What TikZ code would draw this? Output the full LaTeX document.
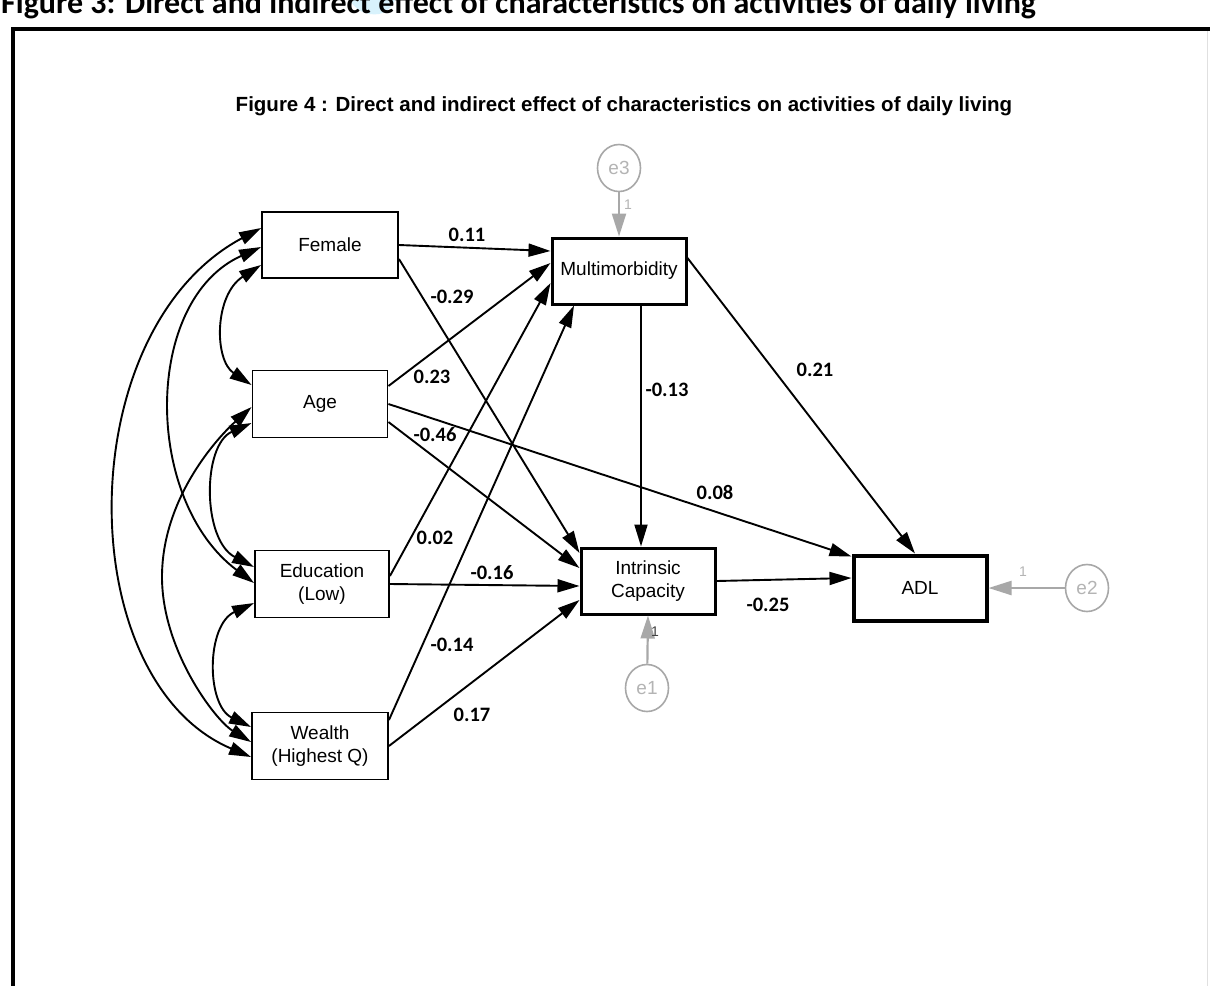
\documentclass[tikz,border=0pt]{standalone}
\usepackage{fontspec}
\setmainfont{Liberation Sans}
\newfontfamily\calib{Carlito}
\usetikzlibrary{arrows.meta,calc,shapes.geometric}
\definecolor{egray}{HTML}{A8A8A8}
\definecolor{etext}{HTML}{B4B4B4}
\begin{document}
\begin{tikzpicture}[x=1pt,y=-1pt,
  vbox/.style={draw, line width=1.9pt, minimum width=134pt, minimum height=66pt, align=center,
    font=\fontsize{19}{23}\selectfont, inner sep=0pt},
  midbox/.style={vbox, line width=3pt},
  endbox/.style={vbox, line width=4pt},
  errnode/.style={draw=egray, ellipse, line width=1.6pt, minimum width=43pt, minimum height=47pt,
    inner sep=0pt, text=etext, font=\fontsize{19}{22}\selectfont},
  coef/.style={font=\calib\bfseries\fontsize{20.5}{24}\selectfont, inner sep=0pt},
  one/.style={font=\fontsize{14}{16}\selectfont, inner sep=0pt},
  arr/.style={line width=1.9pt, -{Triangle[length=22pt,width=13pt]}},
  darr/.style={line width=1.9pt, {Triangle[length=22pt,width=13pt]}-{Triangle[length=22pt,width=13pt]}},
  earr/.style={draw=egray, line width=2.2pt, -{Triangle[length=23pt,width=14pt]}, egray}
]
\useasboundingbox (0,0) rectangle (1210,986);
\clip (0,0) rectangle (1210,986);
\fill[white] (0,0) rectangle (1210,986);

% page caption (cut at the top) and frame
\fill[cyan!25, opacity=0.6] (350,0) .. controls (355,10) and (367,16) .. (379,14) .. controls (389,12) and (393,4) .. (395,0) -- cycle;
\node[anchor=base west, inner sep=0pt, font=\calib\bfseries\fontsize{32}{36}\selectfont] (cap) at (1,13)
  {Figure 3: Direct and indirect effect of characteristics on activities of daily living};
\draw[line width=3.5pt] (1210,29) -- (13,29) -- (13,986);
\draw[black!12, line width=1pt] (1207.5,31) -- (1207.5,986);

% figure title
\node[font=\bfseries\fontsize{20.5}{24}\selectfont, inner sep=0pt, anchor=base] (title) at (624,111)
  {Figure 4 : Direct and indirect effect of characteristics on activities of daily living};

% boxes
\node[vbox, minimum width=136pt] (fem) at (330,245) {Female};
\node[vbox, minimum width=135pt, minimum height=67pt] (age) at (320,404) {Age};
\node[vbox, minimum height=67pt] (edu) at (322,584) {Education\\(Low)};
\node[vbox, minimum width=136pt, minimum height=67pt] (wea) at (320,746) {Wealth\\(Highest Q)};
\node[midbox] (mm) at (619,271) {Multimorbidity};
\node[midbox] (ic) at (648,581) {Intrinsic\\Capacity};
\node[endbox, minimum width=133pt, minimum height=65pt] (adl) at (920,588) {ADL};

% error terms
\node[errnode] (e3) at (619,168) {e3};
\node[errnode] (e1) at (647,688) {e1};
\node[errnode] (e2) at (1087,588) {e2};
\draw[earr] (e3) -- (mm.north);
\draw[earr] (e1) -- (ic.south);
\draw[earr] (e2) -- (adl.east);
\node[one, text=etext] (o3) at (628,205) {1};
\node[one, text=black!75] (o1) at (655,632) {1};
\node[one, text=etext] (o2) at (1023,572) {1};

% direct paths
\draw[arr] (fem.east) -- ($(mm.west)+(0,-20)$);
\draw[arr] ($(fem.east)+(0,14)$) -- ($(ic.west)+(0,-28)$);
\draw[arr] ($(age.east)+(0,-18)$) -- ($(mm.west)+(0,-8)$);
\draw[arr] ($(age.east)+(0,18)$) -- ($(ic.west)+(0,-13)$);
\draw[arr] (age.east) -- ($(adl.north west)+(0,3)$);
\draw[arr] ($(edu.east)+(0,-8)$) -- ($(mm.west)+(0,12)$);
\draw[arr] (edu.east) -- ($(ic.west)+(0,5)$);
\draw[arr] ($(wea.east)+(0,-26)$) -- ($(mm.south)+(-45,0)$);
\draw[arr] (wea.east) -- ($(ic.west)+(0,19)$);
\draw[arr] ($(mm.south)+(22,0)$) -- ($(ic.north)+(-7,0)$);
\draw[arr] ($(mm.east)+(0,-13)$) -- ($(adl.north)+(-5,0)$);
\draw[arr] (ic.east) -- ($(adl.west)+(0,-10)$);

% covariances
\draw[darr] ($(fem.west)+(0,-17)$) .. controls (70,330) and (70,680) .. ($(wea.west)+(0,11)$);
\draw[darr] ($(fem.west)+(0,2)$) .. controls (143,300) and (143,500) .. ($(edu.west)+(0,-1)$);
\draw[darr] ($(fem.west)+(0,20)$) .. controls (214,295) and (214,360) .. ($(age.west)+(0,-19)$);
\draw[darr] ($(age.west)+(0,19)$) .. controls (202,445) and (202,540) .. ($(edu.west)+(0,-17)$);
\draw[darr] ($(age.west)+(0,3)$) .. controls (215,440) and (162,500) .. (162,577)
   .. controls (162,650) and (215,720) .. ($(wea.west)+(0,-4)$);
\draw[darr] ($(edu.west)+(0,19)$) .. controls (206,625) and (206,705) .. ($(wea.west)+(0,-19)$);

% coefficients
\node[coef] (c1) at (467,235) {0.11};
\node[coef] (c2) at (452,297) {-0.29};
\node[coef] (c3) at (432,377) {0.23};
\node[coef] (c4) at (435,435) {-0.46};
\node[coef] (c5) at (435,538) {0.02};
\node[coef] (c6) at (492,573) {-0.16};
\node[coef] (c7) at (452,645) {-0.14};
\node[coef] (c8) at (472,715) {0.17};
\node[coef] (c9) at (715,492) {0.08};
\node[coef] (c10) at (667,390) {-0.13};
\node[coef] (c11) at (815,370) {0.21};
\node[coef] (c12) at (768,605) {-0.25};
\end{tikzpicture}
\end{document}
